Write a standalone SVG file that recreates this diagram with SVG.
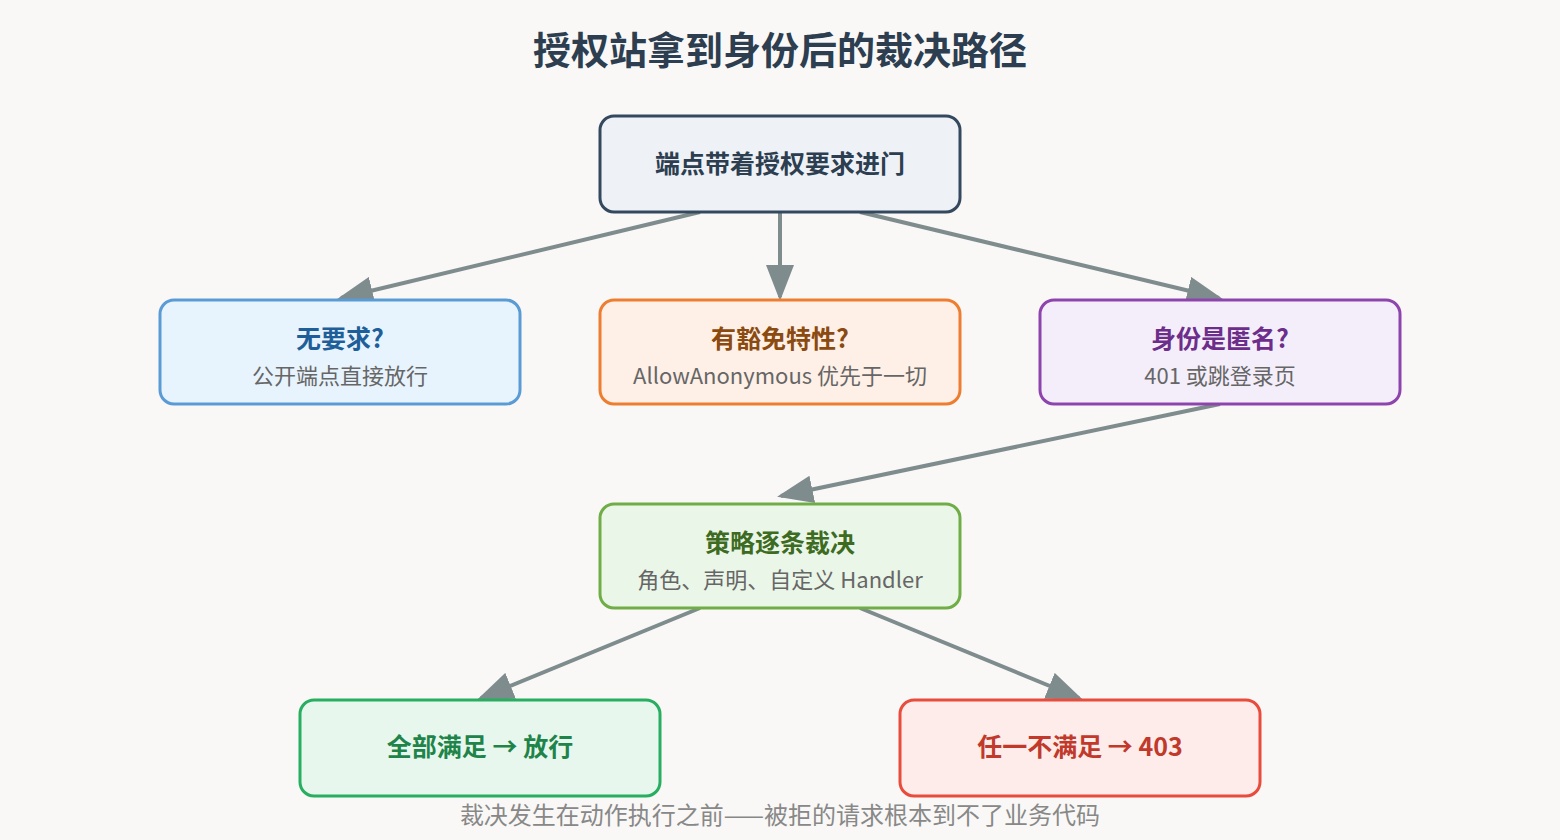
<svg xmlns="http://www.w3.org/2000/svg" width="1560" height="840" viewBox="0 0 1560 840">
<style>
text{font-family:"Noto Sans CJK SC","Noto Sans",sans-serif;text-anchor:middle}
.t{font-size:25px;font-weight:bold}
.s{font-size:22px;fill:#666}
rect{stroke-width:3}
.c line{stroke:#7f8c8d;stroke-width:4;marker-end:url(#a)}
</style>
<defs><marker id="a" markerWidth="9" markerHeight="7" refX="8" refY="3.5" orient="auto" markerUnits="strokeWidth"><polygon points="0,0 9,3.5 0,7" fill="#7f8c8d"/></marker></defs>
<rect width="1560" height="840" fill="#f9f8f6"/>
<text x="780" y="64" style="font-size:38px;font-weight:bold;fill:#2c3e50">授权站拿到身份后的裁决路径</text>
<g class="c">
<line x1="700" y1="212" x2="341" y2="298"/>
<line x1="780" y1="212" x2="780" y2="297"/>
<line x1="860" y1="212" x2="1219" y2="298"/>
<line x1="1220" y1="404" x2="781" y2="496"/>
<line x1="700" y1="608" x2="481" y2="698"/>
<line x1="860" y1="608" x2="1079" y2="698"/>
</g>
<g id="n0"><rect x="600" y="116" width="360" height="96" rx="14" fill="#eef2f7" stroke="#34495e"/><text class="t" x="780" y="173" fill="#2c3e50">端点带着授权要求进门</text></g>
<g id="n1"><rect x="160" y="300" width="360" height="104" rx="14" fill="#e8f4fd" stroke="#5b9bd5"/><text class="t" x="340" y="348" fill="#1f5f99">无要求?</text><text class="s" x="340" y="384">公开端点直接放行</text></g>
<g id="n2"><rect x="600" y="300" width="360" height="104" rx="14" fill="#fef0e6" stroke="#ed7d31"/><text class="t" x="780" y="348" fill="#8a4a10">有豁免特性?</text><text class="s" x="780" y="384">AllowAnonymous 优先于一切</text></g>
<g id="n3"><rect x="1040" y="300" width="360" height="104" rx="14" fill="#f4eefb" stroke="#8e44ad"/><text class="t" x="1220" y="348" fill="#6c2e8a">身份是匿名?</text><text class="s" x="1220" y="384">401 或跳登录页</text></g>
<g id="n4"><rect x="600" y="504" width="360" height="104" rx="14" fill="#eaf6e8" stroke="#70ad47"/><text class="t" x="780" y="552" fill="#3d6b1f">策略逐条裁决</text><text class="s" x="780" y="588">角色、声明、自定义 Handler</text></g>
<g id="n5"><rect x="300" y="700" width="360" height="96" rx="14" fill="#e8f7ee" stroke="#27ae60"/><text class="t" x="480" y="756" fill="#1e8449">全部满足 → 放行</text></g>
<g id="n6"><rect x="900" y="700" width="360" height="96" rx="14" fill="#fdecea" stroke="#e74c3c"/><text class="t" x="1080" y="756" fill="#c0392b">任一不满足 → 403</text></g>
<text x="780" y="824" style="font-size:24px;fill:#888">裁决发生在动作执行之前——被拒的请求根本到不了业务代码</text>
</svg>
